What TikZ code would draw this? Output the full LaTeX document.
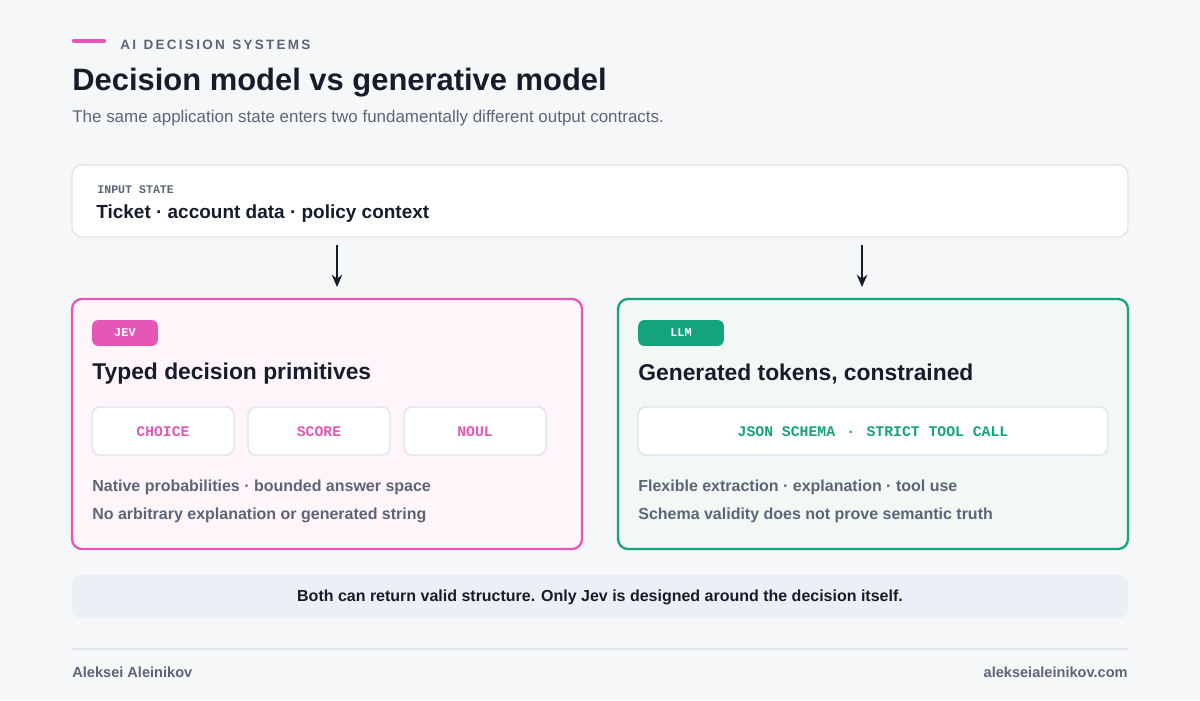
\documentclass[tikz,border=0pt]{standalone}
\usepackage{fontspec}
\usetikzlibrary{arrows.meta}
\setmainfont{Liberation Sans}
\setsansfont{Liberation Sans}
\setmonofont{Liberation Mono}
\definecolor{bg}{HTML}{F6F7F9}
\definecolor{ink}{HTML}{161C2B}
\definecolor{gry}{HTML}{5C6577}
\definecolor{brd}{HTML}{DFE3EA}
\definecolor{pnk}{HTML}{E457B6}
\definecolor{pnkbg}{HTML}{FFF5FB}
\definecolor{grn}{HTML}{14A37C}
\definecolor{grnbg}{HTML}{F1F8F5}
\definecolor{ban}{HTML}{ECEFF6}
\begin{document}
\begin{tikzpicture}[x=0.02cm,y=-0.02cm,
  txt/.style={anchor=west,inner sep=0},
  box/.style={rounded corners=10pt*0.567},
  chip/.style={draw=brd,fill=white,line width=0.8pt,rounded corners=4.5pt},
  chiptxt/.style={font=\ttfamily\bfseries\fontsize{8.4}{9}\selectfont},
  body/.style={txt,font=\bfseries\fontsize{9.1}{10}\selectfont,text=gry},
  arr/.style={-{Stealth[length=7pt,width=6pt]},line width=0.9pt,draw=ink}]
\fill[bg] (0,0) rectangle (1200,700);
\useasboundingbox (0,0) rectangle (1200,700);
% header
\draw[pnk,line width=2.4pt,line cap=round] (74,41) -- (104,41);
\node[txt,text=gry,font=\bfseries\fontsize{7.7}{9}\selectfont] (kick) at (120,45) {A\,I\ \ D\,E\,C\,I\,S\,I\,O\,N\ \ S\,Y\,S\,T\,E\,M\,S};
\node[txt,text=ink,font=\bfseries\fontsize{17.6}{20}\selectfont] (title) at (72,83) {Decision model vs generative model};
\node[txt,text=gry,font=\fontsize{9.65}{11}\selectfont] (sub) at (72,118) {The same application state enters two fundamentally different output contracts.};
% input
\draw[box,draw=brd,fill=white,line width=0.8pt] (72,165) rectangle (1128,237);
\node[txt,text=gry,font=\ttfamily\bfseries\fontsize{6.6}{8}\selectfont] (inl) at (97,190) {INPUT STATE};
\node[txt,text=ink,font=\bfseries\fontsize{10.8}{12}\selectfont] (ins) at (96,214) {Ticket · account data · policy context};
\coordinate (a1s) at (337,245); \coordinate (a1e) at (337,287);
\coordinate (a2s) at (862,245); \coordinate (a2e) at (862,287);
\draw[arr] (a1s) -- (a1e);
\draw[arr] (a2s) -- (a2e);
% left
\draw[box,draw=pnk,fill=pnkbg,line width=1.3pt] (72,299) rectangle (582,549);
\node[fill=pnk,rounded corners=3.5pt,minimum width=66*0.567pt,minimum height=26*0.567pt,inner sep=0,text=white,font=\ttfamily\bfseries\fontsize{6.8}{8}\selectfont] (jev) at (125,333) {JEV};
\node[txt,text=ink,font=\bfseries\fontsize{13}{15}\selectfont] (lt) at (92,374) {Typed decision primitives};
\draw[chip] (92,407) rectangle (234,455); \node[chiptxt,text=pnk] (c1) at (163,432) {CHOICE};
\draw[chip] (248,407) rectangle (390,455); \node[chiptxt,text=pnk] (c2) at (319,432) {SCORE};
\draw[chip] (404,407) rectangle (546,455); \node[chiptxt,text=pnk] (c3) at (475,432) {NOUL};
\node[body] (l1) at (92,487) {Native probabilities · bounded answer space};
\node[body] (l2) at (92,515) {No arbitrary explanation or generated string};
% right
\draw[box,draw=grn,fill=grnbg,line width=1.3pt] (618,299) rectangle (1128,549);
\node[fill=grn,rounded corners=3.5pt,minimum width=86*0.567pt,minimum height=26*0.567pt,inner sep=0,text=white,font=\ttfamily\bfseries\fontsize{6.8}{8}\selectfont] (llm) at (681,333) {LLM};
\node[txt,text=ink,font=\bfseries\fontsize{13}{15}\selectfont] (rt) at (638,374) {Generated tokens, constrained};
\draw[chip] (638,407) rectangle (1108,455); \node[chiptxt,text=grn] (c4) at (873,432) {JSON SCHEMA \,·\, STRICT TOOL CALL};
\node[body] (r1) at (638,487) {Flexible extraction · explanation · tool use};
\node[body] (r2) at (638,515) {Schema validity does not prove semantic truth};
% banner
\fill[ban,rounded corners=5pt] (72,575) rectangle (1128,618);
\node[text=ink,font=\bfseries\fontsize{9.1}{10}\selectfont] (bt) at (600,597) {Both can return valid structure. Only Jev is designed around the decision itself.};
\draw[brd,line width=0.9pt] (72,649) -- (1128,649);
\node[txt,text=gry,font=\bfseries\fontsize{8.3}{10}\selectfont] (f1) at (72,672) {Aleksei Aleinikov};
\node[anchor=east,inner sep=0,text=gry,font=\bfseries\fontsize{8.3}{10}\selectfont] (f2) at (1128,672) {alekseialeinikov.com};
\end{tikzpicture}
\end{document}
